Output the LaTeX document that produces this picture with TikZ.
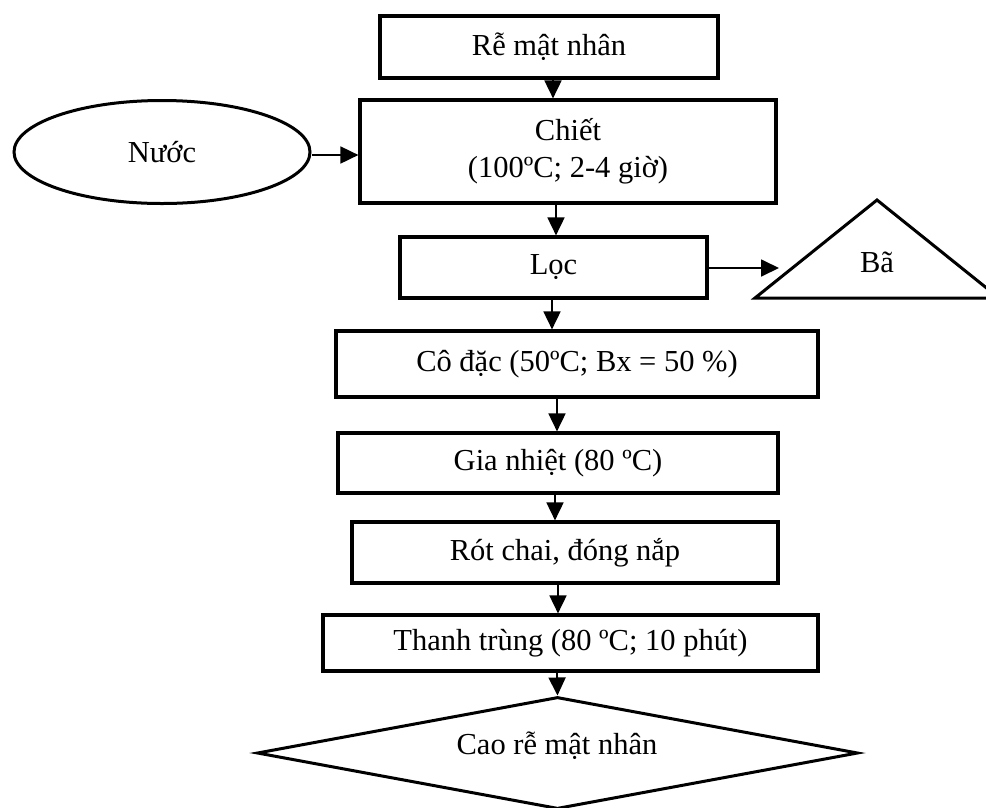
\documentclass[tikz,border=0pt]{standalone}
\usepackage{fontspec}
\setmainfont{Liberation Serif}
\usetikzlibrary{arrows.meta,shapes.geometric}
\tikzset{
  stepbox/.style={draw, line width=3.2pt, rectangle, inner sep=0pt, font=\fontsize{30.5}{37}\selectfont, align=center},
  lbl/.style={inner sep=0pt, font=\fontsize{30.5}{37}\selectfont, align=center},
  arr/.style={line width=1.8pt, -{Triangle[length=18pt,width=17pt]}},
  outl/.style={line width=3pt, line join=miter}
}
\begin{document}
\begin{tikzpicture}[x=1pt,y=-1pt]
\useasboundingbox (0,0) rectangle (986,807);
% boxes
\node[stepbox, minimum width=338pt, minimum height=62pt] (b1) at (549,47) {Rễ mật nhân};
\node[stepbox, minimum width=416pt, minimum height=103pt] (b2) at (568,151.5) {Chiết\\(100ºC; 2-4 giờ)};
\node[stepbox, minimum width=307pt, minimum height=61pt] (b3) at (553.5,267.5) {Lọc};
\node[stepbox, minimum width=482pt, minimum height=66pt] (b4) at (577,364) {Cô đặc (50ºC; Bx = 50 \%)};
\node[stepbox, minimum width=440pt, minimum height=60pt] (b5) at (558,463) {Gia nhiệt (80 ºC)};
\node[stepbox, minimum width=426pt, minimum height=61pt] (b6) at (565,552.5) {Rót chai, đóng nắp};
\node[stepbox, minimum width=495pt, minimum height=56pt] (b7) at (570.5,643) {Thanh trùng (80 ºC; 10 phút)};
% water ellipse
\node[draw, outl, ellipse, inner sep=0pt, minimum width=296pt, minimum height=103pt, font=\fontsize{30.5}{37}\selectfont] (nuoc) at (162,152) {Nước};
% residue triangle
\draw[outl] (755,298) -- (877,200) -- (999,298) -- cycle;
\node[lbl] (ba) at (877,262) {Bã};
\coordinate (batip) at (779,268);
% product diamond
\node[draw, outl, diamond, inner sep=0pt, minimum width=601pt, minimum height=112pt] (cao) at (557.5,753) {};
\node[lbl] (caot) at (557,746) {Cao rễ mật nhân};
% connectors
\draw[arr] (553,0 |- b1.south) -- (553,0 |- b2.north);
\draw[arr] (556,0 |- b2.south) -- (556,0 |- b3.north);
\draw[arr] (552,0 |- b3.south) -- (552,0 |- b4.north);
\draw[arr] (557,0 |- b4.south) -- (557,0 |- b5.north);
\draw[arr] (555,0 |- b5.south) -- (555,0 |- b6.north);
\draw[arr] (558,0 |- b6.south) -- (558,0 |- b7.north);
\draw[arr] (557,0 |- b7.south) -- (cao.north);
\draw[arr] (nuoc.east |- 0,155) -- (b2.west |- 0,155);
\draw[arr] (b3.east |- 0,268) -- (batip);
\end{tikzpicture}
\end{document}
